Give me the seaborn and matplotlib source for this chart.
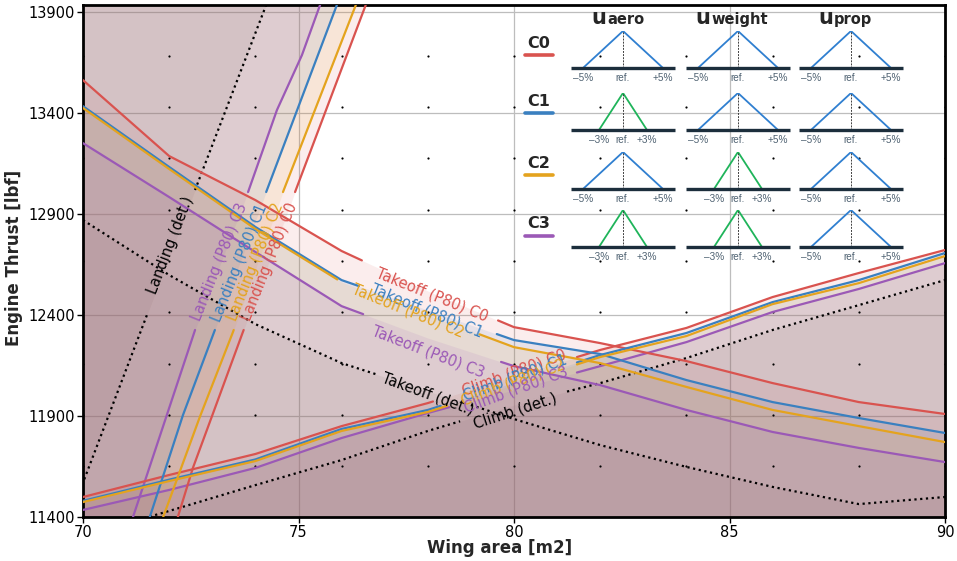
import numpy as np
import matplotlib
matplotlib.use("Agg")
import matplotlib.pyplot as plt
import matplotlib.transforms as mtransforms
from matplotlib.lines import Line2D
import seaborn as sns

# ---------------- data ----------------
configs = ["C0", "C1", "C2", "C3"]
wing_area = [70, 72, 74, 76, 78, 80, 82, 84, 86, 88, 90]

takeoff_det = [12870, 12598, 12355, 12162, 12024, 11885, 11756, 11648, 11549, 11464, 11499]
takeoff_c0 = [13563, 13187, 12969, 12717, 12519, 12340, 12261, 12172, 12063, 11969, 11910]
takeoff_c1 = [13434, 13133, 12836, 12573, 12425, 12276, 12207, 12078, 11969, 11890, 11816]
takeoff_c2 = [13425, 13123, 12826, 12563, 12400, 12241, 12162, 12044, 11930, 11850, 11771]
takeoff_c3 = [13251, 12984, 12712, 12444, 12286, 12147, 12053, 11930, 11821, 11742, 11672]

climb_det = [11306, 11430, 11558, 11682, 11826, 11954, 12063, 12187, 12326, 12449, 12573]
climb_c0 = [11499, 11608, 11712, 11850, 11964, 12097, 12227, 12336, 12489, 12608, 12722]
climb_c1 = [11480, 11585, 11685, 11836, 11930, 12066, 12202, 12311, 12464, 12573, 12707]
climb_c2 = [11474, 11578, 11677, 11826, 11920, 12056, 12192, 12296, 12454, 12558, 12692]
climb_c3 = [11435, 11534, 11643, 11791, 11915, 12030, 12147, 12266, 12415, 12529, 12657]

landing_det_area = [69.69, 70.05, 71.51, 72.60, 74.25]
landing_det_thrust = [11400, 11598, 12415, 13019, 13935]
landing_c0_area = [72.20, 72.55, 73.02, 73.71, 74.92, 76.56]
landing_c0_thrust = [11400, 11643, 11915, 12316, 13009, 13935]
landing_c1_area = [71.55, 72.32, 73.06, 74.25, 75.10, 75.89]
landing_c1_thrust = [11400, 11905, 12326, 13009, 13489, 13935]
landing_c2_area = [71.86, 72.71, 73.48, 74.64, 76.33]
landing_c2_thrust = [11400, 11895, 12316, 13009, 13935]
landing_c3_area = [71.16, 72.60, 73.83, 74.50, 75.08, 75.50]
landing_c3_thrust = [11400, 12326, 13009, 13415, 13687, 13935]

# uncertainty levels (%) per configuration
u_aero = [5, 3, 5, 3]
u_weight = [5, 5, 3, 3]
u_prop = [5, 5, 5, 5]
u_names = ["aero", "weight", "prop"]

x_ticks = [70, 75, 80, 85, 90]
y_ticks = [11400, 11900, 12400, 12900, 13400, 13900]
dot_x = [70, 72, 74, 76, 78, 80, 82, 84, 86, 88, 90]
dot_y = [11652, 11905, 12160, 12415, 12667, 12922, 13177, 13430, 13682]

# ---------------- style ----------------
sns.set_theme(style="white")
plt.rcParams["font.family"] = ["DejaVu Sans"]

colors = {"C0": "#d9534f", "C1": "#3a80c0", "C2": "#e4a31e", "C3": "#9b59b6", "det": "black"}
tri_colors = {5: "#2f7fd0", 3: "#1fb45a"}

W, H = 957, 561
fig = plt.figure(figsize=(W / 100, H / 100), dpi=100)
ax = fig.add_axes([83 / W, 1 - 517 / H, (945 - 83) / W, (517 - 5) / H])
ax.set_xlim(70, 90)
ax.set_ylim(11400, 13935)
ylo = 11400

# ---------------- fills ----------------
P80_ALPHA = 0.1
DET_ALPHA = 0.06
takeoff = {"det": takeoff_det, "C0": takeoff_c0, "C1": takeoff_c1, "C2": takeoff_c2, "C3": takeoff_c3}
climb = {"det": climb_det, "C0": climb_c0, "C1": climb_c1, "C2": climb_c2, "C3": climb_c3}
landing = {"det": (landing_det_area, landing_det_thrust), "C0": (landing_c0_area, landing_c0_thrust),
           "C1": (landing_c1_area, landing_c1_thrust), "C2": (landing_c2_area, landing_c2_thrust),
           "C3": (landing_c3_area, landing_c3_thrust)}

for key in ["det", "C0", "C1", "C2", "C3"]:
    a = DET_ALPHA if key == "det" else P80_ALPHA
    c = colors[key]
    ax.fill_between(wing_area, ylo, takeoff[key], color=c, alpha=a, lw=0, zorder=1)
    ax.fill_between(wing_area, ylo, climb[key], color=c, alpha=a, lw=0, zorder=1)
    lx, ly = landing[key]
    ax.fill_betweenx(ly, 70, lx, color=c, alpha=a, lw=0, zorder=1)

# ---------------- lines with label gaps ----------------
def split(a, b, gap):
    a = np.asarray(a, float)
    b = np.asarray(b, float)
    g0, g1 = gap
    lo = a < g0
    hi = a > g1
    s0 = (np.r_[a[lo], g0], np.r_[b[lo], np.interp(g0, a, b)])
    s1 = (np.r_[g1, a[hi]], np.r_[np.interp(g1, a, b), b[hi]])
    return s0, s1

def draw(xs, ys, key):
    kw = dict(color=colors[key], sort=False, estimator=None, ax=ax, zorder=3, legend=False)
    if key == "det":
        kw.update(lw=1.6, linestyle=(0, (1, 1.6)))
    else:
        kw.update(lw=1.6)
    sns.lineplot(x=xs, y=ys, **kw)

takeoff_gaps = {"det": (76.85, 79.0), "C0": (76.47, 79.63), "C1": (76.4, 79.6), "C2": (75.9, 79.2), "C3": (76.5, 79.7)}
climb_gaps = {"det": (78.75, 81.23), "C0": (78.12, 81.46), "C1": (78.3, 81.46), "C2": (78.45, 81.46), "C3": (78.5, 81.46)}
landing_gaps = {"det": (12415, 13019), "C0": (12326, 13009), "C1": (12326, 13009), "C2": (12326, 13009), "C3": (12326, 13009)}

for key in ["det", "C3", "C0", "C1", "C2"]:
    for seg in split(wing_area, takeoff[key], takeoff_gaps[key]):
        draw(seg[0], seg[1], key)
    for seg in split(wing_area, climb[key], climb_gaps[key]):
        draw(seg[0], seg[1], key)
    lx, ly = landing[key]
    for seg in split(ly, lx, landing_gaps[key]):
        draw(seg[1], seg[0], key)

# ---------------- inline labels ----------------
lab_fs = 10.5
takeoff_lab = {"C0": (78.10, 12499, -22), "C1": (77.98, 12420, -22), "C2": (77.54, 12420, -22),
               "C3": (78.00, 12217, -21), "det": (78.00, 12009, -20)}
climb_lab = {"C0": (80.0, 12113, 20), "C1": (80.02, 12088, 20), "C2": (79.98, 12063, 20),
             "C3": (80.05, 12029, 20), "det": (80.02, 11925, 18)}
landing_lab = {"det": (72.02, 12746, 69), "C3": (73.18, 12662, 68), "C1": (73.64, 12657, 68),
               "C2": (74.01, 12662, 68), "C0": (74.34, 12662, 68)}

def tag(name, key):
    return f"{name} (det.)" if key == "det" else f"{name} (P80) {key}"

for name, d in [("Takeoff", takeoff_lab), ("Climb", climb_lab), ("Landing", landing_lab)]:
    for key, (x, y, r) in d.items():
        ax.text(x, y, tag(name, key), color=colors[key], fontsize=lab_fs, rotation=r,
                ha="center", va="center", rotation_mode="anchor", zorder=4)

# ---------------- axes cosmetics ----------------
gx, gy = np.meshgrid(dot_x, dot_y)
ax.scatter(gx.ravel(), gy.ravel(), s=2.5, color="black", linewidths=0, zorder=2)
ax.set_xticks(x_ticks)
ax.set_yticks(y_ticks)
ax.grid(True, color="#bdbdbd", lw=0.9)
ax.set_axisbelow(True)
for sp in ax.spines.values():
    sp.set_color("black")
    sp.set_linewidth(2.0)
ax.tick_params(axis="both", which="major", direction="out", length=4, width=1,
               labelsize=10.5, bottom=True, left=True, colors="black", pad=2)
ax.set_xlabel("Wing area [m2]", fontsize=12, fontweight="bold")
ax.set_ylabel("Engine Thrust [lbf]", fontsize=12, fontweight="bold")
ax.xaxis.set_label_coords((500 - 83) / 862, -(539 - 517) / 512)
ax.yaxis.set_label_coords((23 - 83) / 862, (517 - 258) / 512)

# ---------------- custom legend (uncertainty triangles) ----------------
px = mtransforms.Affine2D().scale(1 / W, -1 / H).translate(0, 1) + fig.transFigure
col_left = [571, 686, 799]
row_base = [68, 130, 189, 247]
head_x = [606, 710, 833]
row_label_y = [43, 101, 163, 224]

for j, nm in enumerate(u_names):
    fig.text(head_x[j], 24, "u", transform=px, ha="right", va="baseline", fontsize=15, fontweight="bold")
    fig.text(head_x[j] + 1, 24, nm, transform=px, ha="left", va="baseline", fontsize=10.5, fontweight="bold")

u_table = [u_aero, u_weight, u_prop]
for i, cfg in enumerate(configs):
    fig.text(539, row_label_y[i], cfg, transform=px, ha="center", va="center", fontsize=11.5, fontweight="bold")
    fig.add_artist(Line2D([525, 553], [row_label_y[i] + 12] * 2, transform=px, color=colors[cfg], lw=2.6))
    for j in range(3):
        u = u_table[j][i]
        B = row_base[i]
        iax = fig.add_axes([col_left[j] / W, 1 - B / H, 104 / W, 37 / H])
        iax.set_xlim(-6.5, 6.5)
        iax.set_ylim(0, 1)
        iax.axis("off")
        iax.patch.set_alpha(0)
        sns.lineplot(x=[-u, 0, u], y=[0, 1, 0], sort=False, estimator=None, ax=iax,
                     color=tri_colors[u], lw=1.3, legend=False)
        iax.plot([0, 0], [0, 1], color="#404040", lw=0.7, ls=(0, (2, 1.2)))
        iax.plot([-6.5, 6.5], [0, 0], color="#1c2e3c", lw=2.4, clip_on=False, solid_capstyle="butt")
        for xv, s in [(-u, f"\u2013{u}%"), (0, "ref."), (u, f"+{u}%")]:
            iax.text(xv, -0.13, s, ha="center", va="top", fontsize=7.2, color="#4f6272",
                     family=["Liberation Sans", "DejaVu Sans"], clip_on=False)

fig.savefig("out.png", dpi=100)
